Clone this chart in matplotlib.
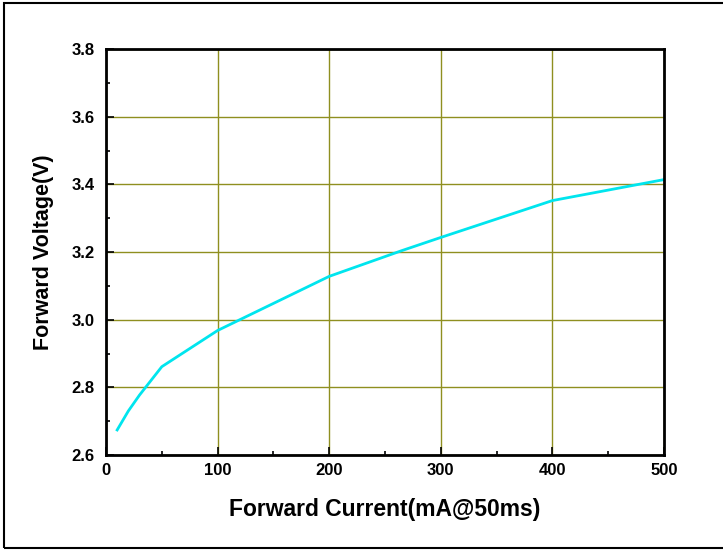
import matplotlib
matplotlib.use("Agg")
import matplotlib.pyplot as plt
from matplotlib.patches import Rectangle
from matplotlib.ticker import MultipleLocator

plt.rcParams['font.family'] = ['Liberation Sans', 'DejaVu Sans']

# Forward current (mA) vs forward voltage (V)
current = [10, 20, 30, 50, 100, 200, 265, 300, 400, 500]
voltage = [2.674, 2.73, 2.777, 2.861, 2.968, 3.128, 3.204, 3.243, 3.352, 3.414]

x_ticks = [0, 100, 200, 300, 400, 500]
y_ticks = [2.6, 2.8, 3.0, 3.2, 3.4, 3.6, 3.8]

fig = plt.figure(figsize=(7.23, 5.51), dpi=100)
ax = fig.add_axes([106 / 723, 96 / 551, 558 / 723, 406 / 551])

# outer frame around the whole picture
fig.patches.append(Rectangle((4 / 723, 3 / 551), 1.0, 545 / 551, transform=fig.transFigure,
                             fill=False, edgecolor='black', linewidth=1.5))

ax.plot(current, voltage, color='#00e5ee', linewidth=2)

ax.set_xlim(0, 500)
ax.set_ylim(2.6, 3.8)
ax.set_xticks(x_ticks)
ax.set_yticks(y_ticks)
ax.set_yticklabels([f"{v:.1f}" for v in y_ticks])
ax.xaxis.set_minor_locator(MultipleLocator(50))
ax.yaxis.set_minor_locator(MultipleLocator(0.1))
ax.tick_params(which='major', direction='in', length=6, width=1.2, labelsize=12)
ax.tick_params(which='minor', direction='in', length=3, width=1.2)
ax.tick_params(axis='y', pad=8)
ax.tick_params(axis='x', pad=6)
for lab in ax.get_xticklabels() + ax.get_yticklabels():
    lab.set_fontweight('bold')

ax.grid(True, which='major', color='#8f8f20', linewidth=1)
for s in ax.spines.values():
    s.set_linewidth(2)

ax.set_xlabel('Forward Current(mA@50ms)', fontsize=16.5, fontweight='bold', labelpad=14)
ax.set_ylabel('Forward Voltage(V)', fontsize=15.5, fontweight='bold', labelpad=13)

fig.savefig('out.png', dpi=100)
